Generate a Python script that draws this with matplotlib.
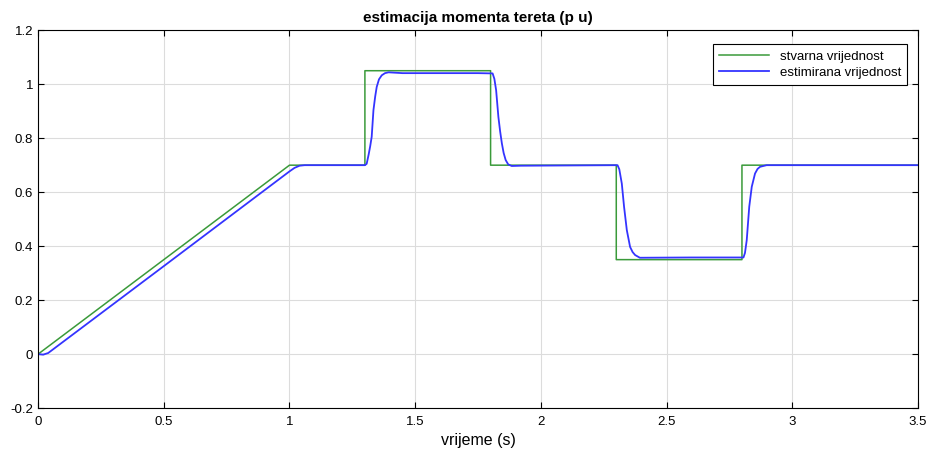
import matplotlib.pyplot as plt

plt.rcParams['font.family'] = ['Liberation Sans', 'DejaVu Sans']

# stvarna vrijednost (reference load torque), breakpoints
t_ref = [0.0, 1.0, 1.3, 1.3, 1.8, 1.8, 2.3, 2.3, 2.8, 2.8, 3.5]
m_ref = [0.0, 0.7, 0.7, 1.05, 1.05, 0.7, 0.7, 0.35, 0.35, 0.7, 0.7]

# estimirana vrijednost (estimated load torque)
t_est = [0.0, 0.02, 0.04, 0.06, 0.08, 0.10, 0.5, 1.0, 1.02, 1.04, 1.06,
         1.30, 1.307, 1.315, 1.321, 1.327, 1.334, 1.341, 1.347, 1.356, 1.367, 1.380, 1.394,
         1.45, 1.6, 1.75, 1.808,
         1.815, 1.822, 1.831, 1.838, 1.845, 1.852, 1.860, 1.870, 1.884, 1.92, 2.305,
         2.312, 2.322, 2.331, 2.342, 2.355, 2.365, 2.375, 2.394, 2.6, 2.806,
         2.812, 2.819, 2.829, 2.839, 2.852, 2.862, 2.872, 2.898, 3.5]
m_est = [0.0, -0.002, 0.004, 0.018, 0.032, 0.046, 0.326, 0.677, 0.69, 0.698, 0.70,
         0.70, 0.705, 0.74, 0.77, 0.805, 0.904, 0.955, 0.99, 1.018, 1.033, 1.041, 1.044,
         1.041, 1.041, 1.041, 1.040,
         1.02, 0.978, 0.879, 0.825, 0.780, 0.745, 0.719, 0.703, 0.697, 0.698, 0.70,
         0.685, 0.632, 0.546, 0.459, 0.397, 0.378, 0.367, 0.357, 0.358, 0.358,
         0.375, 0.422, 0.546, 0.620, 0.669, 0.686, 0.694, 0.70, 0.70]

fig = plt.figure(figsize=(9.3, 4.58), dpi=100)
ax = fig.add_axes([0.041, 0.109, 0.946, 0.825])

ax.plot(t_ref, m_ref, color='#3a9a3a', linewidth=1.1, label='stvarna vrijednost')
ax.plot(t_est, m_est, color='#3434ff', linewidth=1.3, label='estimirana vrijednost')

ax.set_xlim(0, 3.5)
ax.set_ylim(-0.2, 1.2)
ax.set_xticks([0, 0.5, 1, 1.5, 2, 2.5, 3, 3.5])
ax.set_xticklabels(['0', '0.5', '1', '1.5', '2', '2.5', '3', '3.5'])
ax.set_yticks([-0.2, 0, 0.2, 0.4, 0.6, 0.8, 1, 1.2])
ax.set_yticklabels(['-0.2', '0', '0.2', '0.4', '0.6', '0.8', '1', '1.2'])
ax.tick_params(direction='in', top=True, right=True, labelsize=9.5, length=4)
ax.tick_params(axis='x', pad=6)
ax.grid(True, color='#dcdcdc', linewidth=0.8)
ax.set_axisbelow(True)

ax.set_xlabel('vrijeme (s)', fontsize=11.5, labelpad=3)
ax.set_title('estimacija momenta tereta (p u)', fontsize=11, fontweight='bold', pad=6)

leg = ax.legend(loc='upper right', bbox_to_anchor=(0.9955, 0.98), fontsize=9.5,
                fancybox=False, framealpha=1, edgecolor='black',
                handlelength=3.8, borderpad=0.45, labelspacing=0.3)
leg.get_frame().set_linewidth(0.8)

for s in ax.spines.values():
    s.set_linewidth(0.8)

fig.savefig('out.png', dpi=100)
